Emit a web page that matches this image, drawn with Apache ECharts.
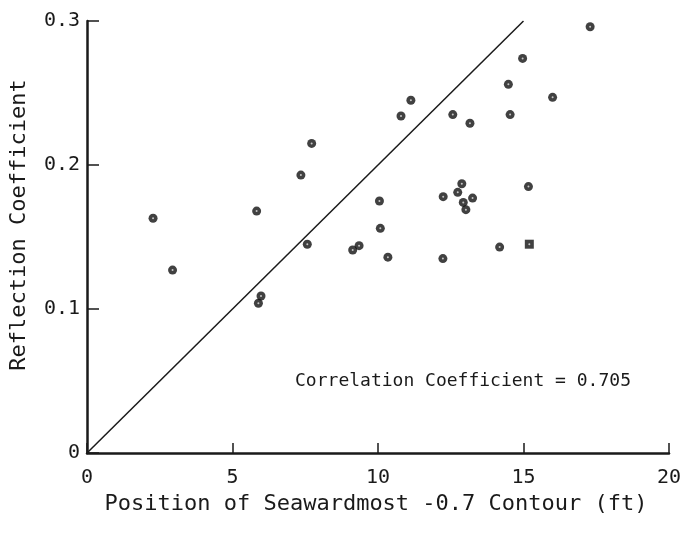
<!DOCTYPE html>
<html>
<head>
<meta charset="utf-8">
<style>
  html, body { margin: 0; padding: 0; background: #fff; }
  #chart { width: 688px; height: 533px; }
</style>
<script src="https://cdn.jsdelivr.net/npm/echarts@6/dist/echarts.min.js"></script>
</head>
<body>
<div id="chart"></div>
<script>
// Seawardmost -0.7 ft contour position (ft) vs. measured reflection coefficient
const contourPosition = [
  2.27, 2.94, 5.83, 5.98, 5.89, 7.35, 7.72, 7.57,
  17.29, 14.97, 14.48, 16.0, 11.13, 10.79, 12.57, 14.54,
  13.16, 12.88, 12.74, 15.17, 12.24, 13.25, 12.93, 13.02,
  10.05, 10.08, 9.35, 9.13, 10.34, 12.23, 14.18
];
const reflectionCoeff = [
  0.163, 0.127, 0.168, 0.109, 0.104, 0.193, 0.215, 0.145,
  0.296, 0.274, 0.256, 0.247, 0.245, 0.234, 0.235, 0.235,
  0.229, 0.187, 0.181, 0.185, 0.178, 0.177, 0.174, 0.169,
  0.175, 0.156, 0.144, 0.141, 0.136, 0.135, 0.143
];
// one station plotted with a square symbol
const squarePoint = [15.2, 0.145];

// reference line: R = 0.02 * position
const lineX = [0, 15];
const lineY = [0, 0.3];

const xTicks = [0, 5, 10, 15, 20];
const yTicks = [0, 0.1, 0.2, 0.3];

const correlationText = 'Correlation Coefficient = 0.705';
const xTitle = 'Position of Seawardmost -0.7 Contour (ft)';
const yTitle = 'Reflection Coefficient';

const FONT = 'DejaVu Sans Mono';
const INK = '#1a1a1a';
const DOT = '#111';

const chart = echarts.init(document.getElementById('chart'), null, { renderer: 'canvas' });

const points = contourPosition.map((x, i) => [x, reflectionCoeff[i]]);

chart.setOption({
  animation: false,
  backgroundColor: '#fff',
  grid: { left: 87, right: 19, top: 21, bottom: 80, containLabel: false, outerBoundsMode: 'none' },
  xAxis: {
    type: 'value',
    min: xTicks[0],
    max: xTicks[xTicks.length - 1],
    interval: 5,
    axisLine: { show: true, lineStyle: { color: INK, width: 2.5 } },
    axisTick: { show: true, inside: true, length: 10, lineStyle: { color: INK, width: 1.5 } },
    axisLabel: { fontFamily: FONT, fontSize: 20, color: INK, margin: 15 },
    splitLine: { show: false }
  },
  yAxis: {
    type: 'value',
    min: yTicks[0],
    max: yTicks[yTicks.length - 1],
    interval: 0.1,
    axisLine: { show: true, lineStyle: { color: INK, width: 2.5 } },
    axisTick: { show: true, inside: true, length: 12, lineStyle: { color: INK, width: 1.5 } },
    axisLabel: { fontFamily: FONT, fontSize: 20, color: INK, margin: 7 },
    splitLine: { show: false }
  },
  series: [
    {
      type: 'line',
      data: lineX.map((x, i) => [x, lineY[i]]),
      showSymbol: false,
      symbol: 'none',
      lineStyle: { color: INK, width: 1.5 },
      z: 2
    },
    {
      type: 'scatter',
      data: points,
      symbol: 'circle',
      symbolSize: 9,
      itemStyle: { color: DOT },
      z: 3
    },
    {
      type: 'scatter',
      data: [squarePoint],
      symbol: 'rect',
      symbolSize: 9,
      itemStyle: { color: DOT },
      z: 3
    },
    {
      // small light speck at the centre of each plotted dot
      type: 'scatter',
      data: points.concat([squarePoint]),
      symbol: 'circle',
      symbolSize: 2,
      itemStyle: { color: '#e6e6e6' },
      silent: true,
      z: 4
    }
  ],
  graphic: [
    {
      type: 'text',
      x: 463,
      y: 381,
      style: {
        text: correlationText,
        fontFamily: FONT,
        fontSize: 18,
        fill: INK,
        align: 'center',
        verticalAlign: 'middle'
      }
    },
    {
      type: 'text',
      x: 376,
      y: 504,
      style: {
        text: xTitle,
        fontFamily: FONT,
        fontSize: 22,
        fill: INK,
        align: 'center',
        verticalAlign: 'middle'
      }
    },
    {
      type: 'text',
      x: 19,
      y: 225,
      rotation: Math.PI / 2,
      style: {
        text: yTitle,
        fontFamily: FONT,
        fontSize: 22,
        fill: INK,
        align: 'center',
        verticalAlign: 'middle'
      }
    }
  ]
});
</script>
</body>
</html>
